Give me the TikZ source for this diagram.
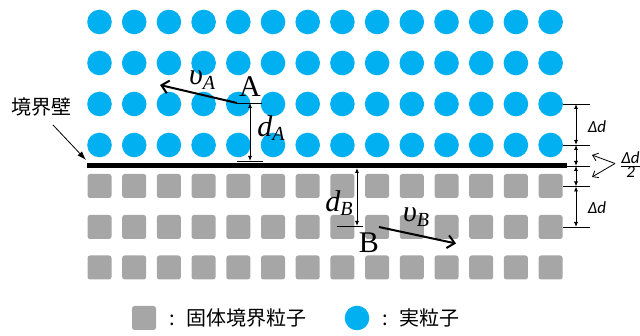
\documentclass[tikz,border=0pt]{standalone}
\usepackage{fontspec}
\setmainfont{Liberation Serif}
\newfontfamily\jpfont{Noto Sans CJK JP}
\newfontfamily\carlfont{Carlito}
\usetikzlibrary{arrows.meta}
\definecolor{cyanp}{HTML}{00B0F0}
\definecolor{grayp}{HTML}{A6A6A6}
\newcommand{\sublbl}[2]{{\itshape #1\raisebox{-0.15em}{\fontsize{20}{20}\selectfont #2}}}
\begin{document}
\begin{tikzpicture}[x=1pt,y=-1pt,
  particle/.style={circle, fill=cyanp, minimum size=24.6pt, inner sep=0pt},
  wallpart/.style={rectangle, fill=grayp, rounded corners=2.5pt, minimum size=24pt, inner sep=0pt},
  dimarrow/.style={line width=0.8pt, {Latex[length=5pt,width=4pt]}-{Latex[length=5pt,width=4pt]}},
  ticks/.style={line width=0.8pt},
  vel/.style={line width=2pt, -{Straight Barb[length=7pt,width=13pt]}},
  chev/.style={line width=0.8pt, -{Straight Barb[length=5pt,width=8pt]}},
  mathlbl/.style={font=\fontsize{30}{32}\selectfont, inner sep=0pt},
  ptlbl/.style={font=\fontsize{30}{32}\selectfont, inner sep=0pt},
  dlbl/.style={font=\carlfont\itshape\fontsize{17}{19}\selectfont, inner sep=0pt},
  jplbl/.style={font=\jpfont\fontsize{20}{22}\selectfont, inner sep=0pt}
]
\useasboundingbox (0,0) rectangle (640,336);
% particles
\foreach \i in {0,...,13} {
  \foreach \y [count=\j] in {22,63,104,145}
    \node[particle] (c\i-\j) at ({99.5+34.7*\i},\y) {};
  \foreach \y [count=\j] in {186,227,267.5}
    \node[wallpart] (s\i-\j) at ({99.5+34.7*\i},\y) {};
}
% wall
\coordinate (wl) at (87,165.5);
\coordinate (wr) at (567,165.5);
\draw[line width=5pt] (wl) -- (wr);
% right dimension lines
\foreach \y [count=\k] in {104,145,166,186.5,227} {
  \coordinate (tl\k) at (563,\y);
  \coordinate (tr\k) at (590,\y);
  \coordinate (tm\k) at (576,\y);
  \draw[ticks] (tl\k) -- (tr\k);
}
\draw[dimarrow] (tm1) -- (tm2);
\draw[dimarrow] (tm2) -- (tm3);
\draw[dimarrow] (tm3) -- (tm4);
\draw[dimarrow] (tm4) -- (tm5);
\node[dlbl] (dd1) at (597,127) {Δd};
\node[dlbl] (dd2) at (597,208) {Δd};
\node[inner sep=0pt, anchor=west] (dhalf) at (620,164.5) {\carlfont\itshape\fontsize{17}{19}\selectfont $\frac{\hbox{Δd}}{\hbox{2}}$};
\coordinate (cv) at (615,163.5);
\coordinate (cu) at (592,155);
\coordinate (cd) at (592,177);
\draw[chev] (cv) -- (cu);
\draw[chev] (cv) -- (cd);
% particle A
\coordinate (Al) at (237,103);
\coordinate (Ar) at (262,103);
\coordinate (Am) at (250,103);
\coordinate (Abl) at (237,161);
\coordinate (Abr) at (263,161);
\coordinate (Abm) at (250,161);
\coordinate (vAend) at (160,85);
\draw[ticks] (Al) -- (Ar);
\draw[ticks] (Abl) -- (Abr);
\draw[dimarrow] (Am) -- (Abm);
\draw[vel] (Al) -- (vAend);
\node[ptlbl] (lA) at (250,87) {A};
\node[mathlbl] (lvA) at (202,80) {\sublbl{υ}{A}};
\node[mathlbl] (ldA) at (271,128) {\sublbl{d}{A}};
% particle B
\coordinate (Bt) at (357,168);
\coordinate (Bb) at (357,226);
\coordinate (Bl) at (337,226);
\coordinate (Br) at (363,226);
\coordinate (vBs) at (379,227);
\coordinate (vBe) at (456,243.5);
\draw[ticks] (Bl) -- (Br);
\draw[dimarrow] (Bt) -- (Bb);
\draw[vel] (vBs) -- (vBe);
\node[ptlbl] (lB) at (369,243) {B};
\node[mathlbl] (ldB) at (339,203) {\sublbl{d}{B}};
\node[mathlbl] (lvB) at (416,217) {\sublbl{υ}{B}};
% boundary wall label
\node[jplbl] (wlab) at (42,107) {境界壁};
\coordinate (wa1) at (53,125);
\coordinate (wa2) at (86,160);
\draw[line width=0.8pt, -{Latex[length=9pt,width=6pt]}] (wa1) -- (wa2);
% legend
\node[wallpart] (legs) at (144,318) {};
\node[jplbl, anchor=west] (legst) at (169,318) {:\hspace{12pt}固体境界粒子};
\node[particle] (legc) at (357,318) {};
\node[jplbl, anchor=west] (legct) at (382,318) {:\hspace{12pt}実粒子};
\end{tikzpicture}
\end{document}
